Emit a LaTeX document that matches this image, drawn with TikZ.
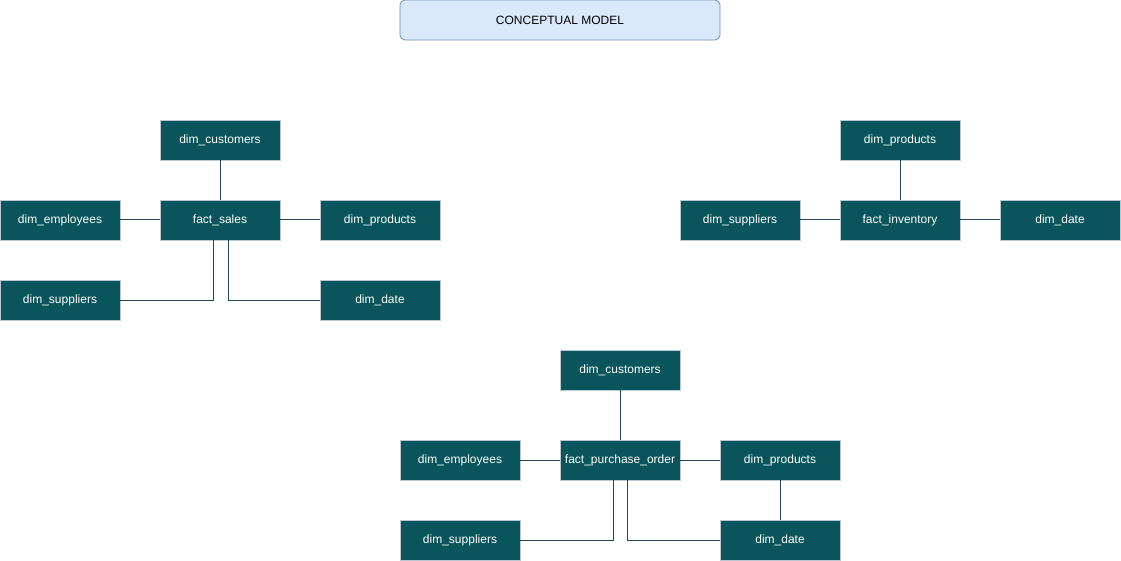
\documentclass[tikz,border=0pt]{standalone}
\usepackage{fontspec}
\setmainfont{Liberation Sans}
\definecolor{boxfill}{HTML}{09555B}
\definecolor{boxline}{HTML}{BAC8D3}
\definecolor{linkc}{HTML}{23445D}
\definecolor{titlefill}{HTML}{DAE8FC}
\definecolor{titleline}{HTML}{6C8EBF}
\begin{document}
\begin{tikzpicture}[x=1pt,y=-1pt,
  tbl/.style={draw=boxline, fill=boxfill, text=white, line width=0.8pt,
    minimum width=120pt, minimum height=40pt, inner sep=0pt,
    font=\fontsize{12}{14}\selectfont, anchor=center},
  titlebox/.style={draw=titleline, fill=titlefill, rounded corners=5pt, line width=0.8pt,
    minimum width=320pt, minimum height=40pt, inner sep=0pt,
    font=\fontsize{12}{14}\selectfont},
  link/.style={draw=linkc, line width=1pt}]
\useasboundingbox (0,0) rectangle (1121,561);
\node[titlebox] (title) at (560,20) {CONCEPTUAL MODEL};
% group 1
\node[tbl] (c1) at (220,140) {dim\_customers};
\node[tbl] (e1) at (60,220) {dim\_employees};
\node[tbl] (f1) at (220,220) {fact\_sales};
\node[tbl] (p1) at (380,220) {dim\_products};
\node[tbl] (s1) at (60,300) {dim\_suppliers};
\node[tbl] (d1) at (380,300) {dim\_date};
\draw[link] (c1.south) -- (f1.north);
\draw[link] (e1.east) -- (f1.west);
\draw[link] (f1.east) -- (p1.east -| p1.west);
\draw[link] (s1.east) -| ([xshift=-7pt]f1.south);
\draw[link] (d1.west) -| ([xshift=8pt]f1.south);
% group 2
\node[tbl] (p2) at (900,140) {dim\_products};
\node[tbl] (s2) at (740,220) {dim\_suppliers};
\node[tbl] (f2) at (900,220) {fact\_inventory};
\node[tbl] (d2) at (1060,220) {dim\_date};
\draw[link] (p2.south) -- (f2.north);
\draw[link] (s2.east) -- (f2.west);
\draw[link] (f2.east) -- (d2.west);
% group 3
\node[tbl] (c3) at (620,370) {dim\_customers};
\node[tbl] (e3) at (460,460) {dim\_employees};
\node[tbl] (f3) at (620,460) {fact\_purchase\_order};
\node[tbl] (p3) at (780,460) {dim\_products};
\node[tbl] (s3) at (460,540) {dim\_suppliers};
\node[tbl] (d3) at (780,540) {dim\_date};
\draw[link] (c3.south) -- (f3.north);
\draw[link] (e3.east) -- (f3.west);
\draw[link] (f3.east) -- (p3.west);
\draw[link] (p3.south) -- (d3.north);
\draw[link] (s3.east) -| ([xshift=-7pt]f3.south);
\draw[link] (d3.west) -| ([xshift=7pt]f3.south);
\end{tikzpicture}
\end{document}
